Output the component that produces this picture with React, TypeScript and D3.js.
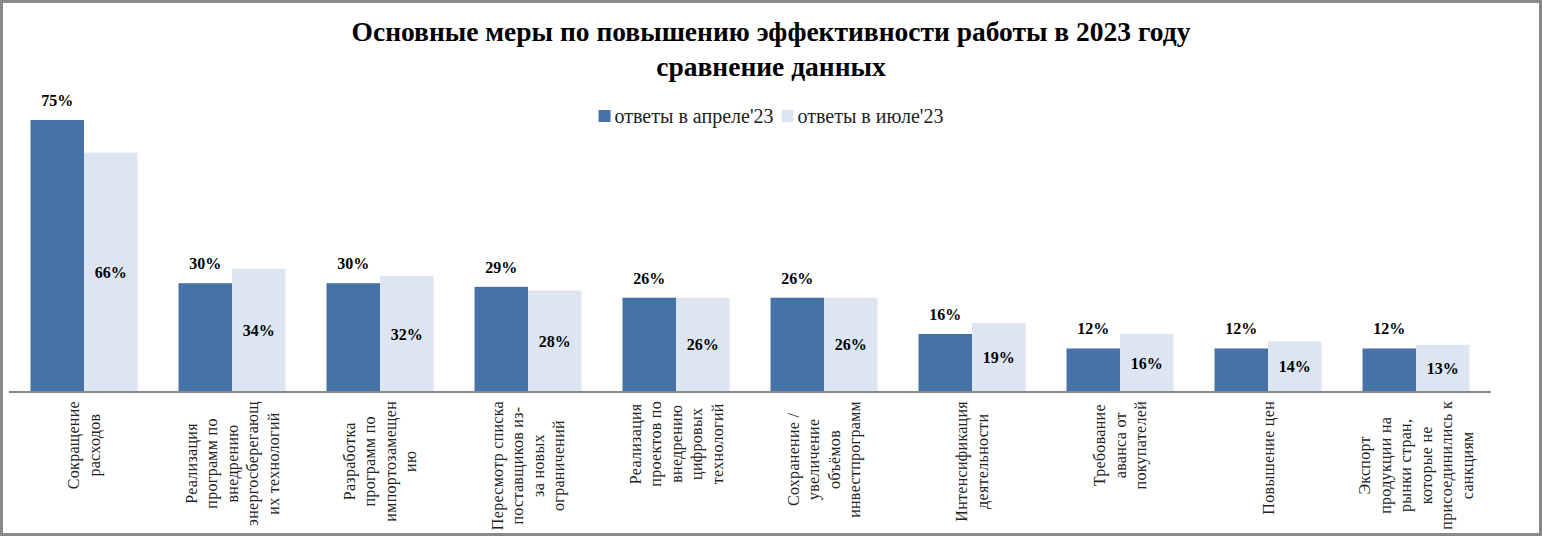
import React, { useEffect, useRef } from "react";
import * as d3 from "d3";

const categories: string[][] = [
  ["Сокращение", "расходов"],
  ["Реализация", "программ по", "внедрению", "энергосберегающ", "их технологий"],
  ["Разработка", "программ по", "импортозамещен", "ию"],
  ["Пересмотр списка", "поставщиков из-", "за новых", "ограничений"],
  ["Реализация", "проектов по", "внедрению", "цифровых", "технологий"],
  ["Сохранение /", "увеличение", "объёмов", "инвестпрограмм"],
  ["Интенсификация", "деятельности"],
  ["Требование", "аванса от", "покупателей"],
  ["Повышение цен"],
  ["Экспорт", "продукции на", "рынки стран,", "которые не", "присоединились к", "санкциям"],
];
const aprilValues = [75, 30, 30, 29, 26, 26, 16, 12, 12, 12];
const julyValues = [66, 34, 32, 28, 26, 26, 19, 16, 14, 13];
const seriesNames = ["ответы в апреле'23", "ответы в июле'23"];
const titleLines = ["Основные меры по повышению эффективности работы в 2023 году", "сравнение данных"];

const W = 1542;
const H = 536;
const FONT = "'Liberation Serif', 'Times New Roman', serif";
const C_APR = "#4672A8";
const C_JUL = "#DCE5F1";
const GRID = "#898989";

export default function App() {
  const ref = useRef<SVGSVGElement | null>(null);

  useEffect(() => {
    const svg = d3.select(ref.current);
    svg.selectAll("*").remove();

    svg.append("rect").attr("x", 0).attr("y", 0).attr("width", W).attr("height", H).attr("fill", "#fff");
    svg.append("rect")
      .attr("x", 1.5).attr("y", 1.5).attr("width", W - 3).attr("height", H - 3)
      .attr("fill", "none").attr("stroke", GRID).attr("stroke-width", 3);

    // title
    titleLines.forEach((t, i) => {
      svg.append("text")
        .attr("x", 771).attr("y", 41 + i * 35)
        .attr("text-anchor", "middle")
        .attr("font-family", FONT).attr("font-weight", "bold").attr("font-size", 27.5)
        .attr("fill", "#000").text(t);
    });

    const idx = categories.map((_, i) => String(i));
    const x = d3.scaleBand<string>().domain(idx).range([10, 1490]).paddingInner(0.277).paddingOuter(0.1385);
    const xs = d3.scaleBand<string>().domain(["a", "j"]).range([0, x.bandwidth()]);
    const y = d3.scaleLinear().domain([0, 80]).range([392, 392 - 3.627 * 80]);

    const g = svg.append("g");
    idx.forEach((k, i) => {
      const x0 = x(k)!;
      const a = aprilValues[i];
      const j = julyValues[i];
      g.append("rect").attr("x", x0 + xs("a")!).attr("y", y(a)).attr("width", xs.bandwidth()).attr("height", y(0) - y(a)).attr("fill", C_APR);
      g.append("rect").attr("x", x0 + xs("j")!).attr("y", y(j)).attr("width", xs.bandwidth()).attr("height", y(0) - y(j)).attr("fill", C_JUL);
      g.append("text")
        .attr("x", x0 + xs("a")! + xs.bandwidth() / 2).attr("y", y(a) - 14)
        .attr("text-anchor", "middle").attr("font-family", FONT).attr("font-weight", "bold").attr("font-size", 16)
        .attr("fill", "#000").text(a + "%");
      g.append("text")
        .attr("x", x0 + xs("j")! + xs.bandwidth() / 2).attr("y", (y(j) + y(0)) / 2)
        .attr("dy", "0.35em")
        .attr("text-anchor", "middle").attr("font-family", FONT).attr("font-weight", "bold").attr("font-size", 16)
        .attr("fill", "#000").text(j + "%");
    });

    // axis line
    svg.append("line").attr("x1", 9).attr("x2", 1491).attr("y1", 392).attr("y2", 392)
      .attr("stroke", GRID).attr("stroke-width", 2);

    // category labels (rotated)
    const lh = 20.5;
    idx.forEach((k, i) => {
      const lines = categories[i];
      const cx = x(k)! + x.bandwidth() / 2;
      const grp = svg.append("g");
      const texts = lines.map((l) =>
        grp.append("text")
          .attr("font-family", FONT).attr("font-size", 16)
          .attr("fill", "#222").attr("text-anchor", "middle")
          .attr("letter-spacing", 0.3)
          .text(l)
      );
      let maxLen = 0;
      texts.forEach((t) => { maxLen = Math.max(maxLen, (t.node() as SVGTextElement).getComputedTextLength()); });
      const cy = 401 + maxLen / 2;
      texts.forEach((t, li) => {
        const px = cx + (li - (lines.length - 1) / 2) * lh;
        t.attr("transform", `translate(${px},${cy}) rotate(-90)`).attr("dy", "0.35em");
      });
    });

    // legend
    const lg = svg.append("g");
    const legendTexts = seriesNames.map((s) =>
      lg.append("text").attr("font-family", FONT).attr("font-size", 20).attr("fill", "#222").attr("y", 123).text(s)
    );
    const lens = legendTexts.map((t) => (t.node() as SVGTextElement).getComputedTextLength());
    const total = 12 + 4 + lens[0] + 8 + 12 + 4 + lens[1];
    let lx = 771 - total / 2;
    [C_APR, C_JUL].forEach((c, i) => {
      lg.append("rect").attr("x", lx).attr("y", 110).attr("width", 12).attr("height", 12).attr("fill", c);
      legendTexts[i].attr("x", lx + 16);
      lx += 16 + lens[i] + 8;
    });
  }, []);

  return (
    <div style={{ position: "fixed", left: 0, top: 0 }}>
      <svg ref={ref} width={W} height={H} style={{ display: "block" }} />
    </div>
  );
}
